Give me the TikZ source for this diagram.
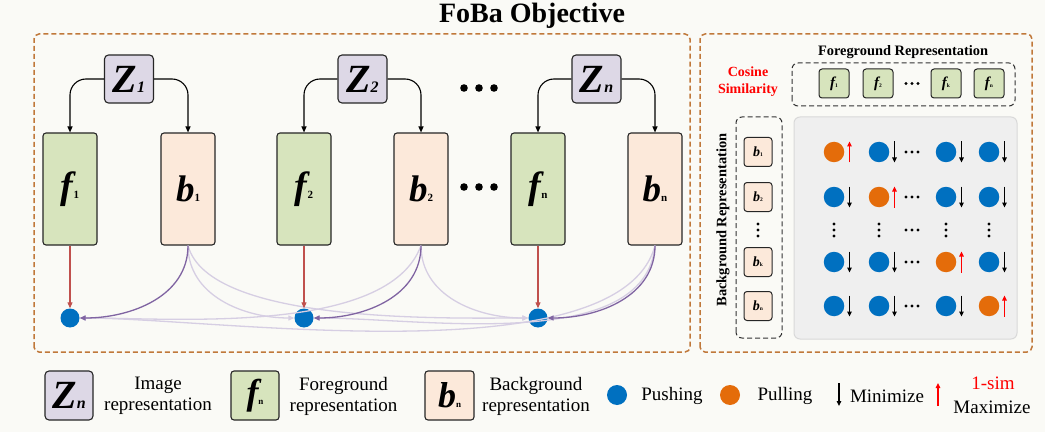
\documentclass[tikz,border=0pt]{standalone}
\usepackage{fontspec}
\setmainfont{Liberation Serif}
\usetikzlibrary{arrows.meta}
\definecolor{bgc}{HTML}{FAFAF6}
\definecolor{zfill}{HTML}{DDD8E6}
\definecolor{ffill}{HTML}{D7E4BD}
\definecolor{bfill}{HTML}{FCE9DA}
\definecolor{dashbrown}{HTML}{C0783A}
\definecolor{redarr}{HTML}{C0504D}
\definecolor{purp}{HTML}{8064A2}
\definecolor{faintp}{HTML}{D6CEE3}
\definecolor{blued}{HTML}{0070C0}
\definecolor{oranged}{HTML}{E46C0A}
\definecolor{grayfill}{HTML}{EFEFEF}
\definecolor{grayline}{HTML}{D9D9D9}
\newcommand{\lett}[4]{{\fontsize{#1}{#1}\selectfont\bfseries\itshape #3}{\fontsize{#2}{#2}\selectfont\bfseries #4}}
\newcommand{\zlet}[1]{{\fontsize{40}{40}\selectfont\bfseries\itshape Z}{\fontsize{16}{16}\selectfont\bfseries\itshape #1}}
\begin{document}
\begin{tikzpicture}[x=1pt,y=1pt,
  zbox/.style={draw=black!85,line width=1.1pt,rounded corners=4pt,fill=zfill,minimum width=49pt,minimum height=48pt,inner sep=0pt},
  fbox/.style={draw=black!85,line width=1.1pt,rounded corners=3pt,fill=ffill,minimum width=54pt,minimum height=112pt,inner sep=0pt},
  bbox/.style={fbox,fill=bfill},
  sfbox/.style={draw=black!85,line width=1pt,rounded corners=3pt,fill=ffill,minimum width=30pt,minimum height=29pt,inner sep=0pt},
  sbbox/.style={sfbox,fill=bfill,minimum width=28pt},
  dotb/.style={circle,fill=blued,minimum size=19pt,inner sep=0pt},
  doto/.style={circle,fill=oranged,minimum size=19pt,inner sep=0pt},
  gdotb/.style={circle,fill=blued,minimum size=20.5pt,inner sep=0pt},
  gdoto/.style={circle,fill=oranged,minimum size=20.5pt,inner sep=0pt},
  panel/.style={draw=dashbrown,line width=1.5pt,dash pattern=on 5pt off 3pt,rounded corners=5pt},
  blkdash/.style={draw=black!80,line width=1pt,dash pattern=on 5pt off 3pt,rounded corners=6pt},
  zarrow/.style={draw=black,line width=1.1pt,rounded corners=16pt,-{Triangle[length=6pt,width=5pt]}},
  rarrow/.style={draw=redarr,line width=1.1pt,-{Triangle[length=6pt,width=5pt]}},
  parrow/.style={draw=purp,line width=1.3pt,-{Triangle[length=6pt,width=5pt]}},
  farrow/.style={draw=faintp,line width=1.3pt,-{Triangle[length=6pt,width=5pt]}},
  downarr/.style={draw=black,line width=1.3pt,-{Triangle[length=5pt,width=4.5pt]}},
  uparr/.style={draw=red,line width=1.3pt,-{Triangle[length=5pt,width=4.5pt]}},
  legtxt/.style={font=\fontsize{19}{21}\selectfont,align=center},
  hdr/.style={font=\bfseries\fontsize{14.4}{14.4}\selectfont}
]
\fill[bgc] (0,0) rectangle (1045,432);
\useasboundingbox (0,0) rectangle (1045,432);

% title
\node[font=\bfseries\fontsize{28}{28}\selectfont,anchor=base] (title) at (532,409) {FoBa Objective};

% panels
\draw[panel] (34,80) rectangle (690,398);
\draw[panel] (700,80) rectangle (1032,398);

% left panel nodes
\node[zbox] (z1) at (129,353) {\zlet{1}};
\node[zbox] (z2) at (362.5,353) {\zlet{2}};
\node[zbox] (zn) at (596.5,353) {\zlet{n}};
\node[fbox] (f1) at (70,243) {\lett{38}{11}{f}{1}};
\node[bbox] (b1) at (188,243) {\lett{37}{11}{b}{1}};
\node[fbox] (f2) at (304,243) {\lett{38}{11}{f}{2}};
\node[bbox] (b2) at (421,243) {\lett{37}{11}{b}{2}};
\node[fbox] (fn) at (538,243) {\lett{38}{11}{f}{n}};
\node[bbox] (bn) at (655,243) {\lett{37}{11}{b}{n}};
\foreach \x in {464,479,494} {\fill (\x,344) circle (3.8); \fill (\x,245) circle (3.8);}

\draw[zarrow] (z1.west) -| (f1.north);
\draw[zarrow] (z1.east) -| (b1.north);
\draw[zarrow] (z2.west) -| (f2.north);
\draw[zarrow] (z2.east) -| (b2.north);
\draw[zarrow] (zn.west) -| (fn.north);
\draw[zarrow] (zn.east) -| (bn.north);

\node[dotb] (d1) at (70,114) {};
\node[dotb] (d2) at (304,114) {};
\node[dotb] (d3) at (538,114) {};

\draw[farrow] (b1.south) to[out=-90,in=180] (d2.west);
\draw[farrow] (b1.south) to[out=-75,in=180,looseness=0.6] (d3.west);
\draw[farrow] (b2.south) to[out=-110,in=0,looseness=0.7] (d1.east);
\draw[farrow] (b2.south) to[out=-90,in=180] (d3.west);
\draw[farrow] (bn.south) to[out=-105,in=0,looseness=0.6] (d1.east);
\draw[farrow] (bn.south) to[out=-95,in=0,looseness=0.8] (d2.east);

\draw[parrow] (b1.south) to[out=-90,in=0] (d1.east);
\draw[parrow] (b2.south) to[out=-90,in=0] (d2.east);
\draw[parrow] (bn.south) to[out=-90,in=0] (d3.east);

\draw[rarrow] (f1.south) -- (d1.north);
\draw[rarrow] (f2.south) -- (d2.north);
\draw[rarrow] (fn.south) -- (d3.north);

% right panel
\node[hdr] (fgrep) at (903,380) {Foreground Representation};
\node[font=\bfseries\fontsize{14}{17}\selectfont,text=red,align=center] (cos) at (748,350) {Cosine\\Similarity};
\draw[blkdash] (792,326) rectangle (1015,369);
\node[sfbox] (sf1) at (834,348.5) {\lett{15}{5.5}{f}{1}};
\node[sfbox] (sf2) at (878,348.5) {\lett{15}{5.5}{f}{2}};
\node[sfbox] (sfk) at (946,348.5) {\lett{15}{5.5}{f}{k}};
\node[sfbox] (sfn) at (989,348.5) {\lett{15}{5.5}{f}{n}};
\foreach \x in {906,912,918} \fill (\x,348.5) circle (1.7);

\node[hdr,rotate=90] (bgrep) at (723,212) {Background Representation};
\draw[blkdash] (736,94) rectangle (782,315);
\node[sbbox] (sb1) at (758,280) {\lett{14}{5.5}{b}{1}};
\node[sbbox] (sb2) at (758,235) {\lett{14}{5.5}{b}{2}};
\node[sbbox] (sbk) at (758,170) {\lett{14}{5.5}{b}{k}};
\node[sbbox] (sbn) at (758,126) {\lett{14}{5.5}{b}{n}};
\foreach \y in {196,202,208} \fill (758,\y) circle (1.7);

\draw[draw=grayline,fill=grayfill,line width=1pt,rounded corners=6pt] (794,93) rectangle (1017,315);

% grid
\foreach \r/\y in {1/280,2/235,3/170,4/126} {
  \foreach \c/\x in {1/834,2/879,3/946,4/989} {
    \ifnum\r=\c
      \node[gdoto] (g\r\c) at (\x,\y) {};
      \draw[uparr] (\x+15.5,\y-10.5) -- (\x+15.5,\y+10.5);
    \else
      \node[gdotb] (g\r\c) at (\x,\y) {};
      \draw[downarr] (\x+15.5,\y+10.5) -- (\x+15.5,\y-10.5);
    \fi
  }
  \foreach \x in {906,912,918} \fill (\x,\y) circle (1.7);
}
\foreach \x in {834,879,946,989} {\foreach \y in {196,202,208} \fill (\x,\y) circle (1.7);}
\foreach \x in {906,912,918} \fill (\x,202) circle (1.7);

% legend
\node[zbox,minimum width=48pt,minimum height=49pt] (lz) at (69,36.5) {\zlet{n}};
\node[legtxt] (lzt) at (158,36) {Image\\representation};
\node[fbox,minimum width=48pt,minimum height=49pt] (lf) at (255,36.5) {\lett{36}{9}{f}{n}};
\node[legtxt] (lft) at (343.5,36) {Foreground\\representation};
\node[bbox,minimum width=49pt,minimum height=49pt] (lb) at (449.5,36.5) {\lett{36}{9}{b}{n}};
\node[legtxt] (lbt) at (536,36) {Background\\representation};
\node[dotb,minimum size=20pt] (lpush) at (617,37) {};
\node[legtxt] (lpusht) at (672,36) {Pushing};
\node[doto,minimum size=20pt] (lpull) at (730,37) {};
\node[legtxt] (lpullt) at (785,36) {Pulling};
\draw[downarr] (839,49) -- (839,26);
\node[legtxt] (lmin) at (887,36) {Minimize};
\draw[uparr] (938,26) -- (938,49);
\node[legtxt,text=red] (lsim) at (993,49) {1-sim};
\node[legtxt] (lmax) at (992,25) {Maximize};
\end{tikzpicture}
\end{document}
